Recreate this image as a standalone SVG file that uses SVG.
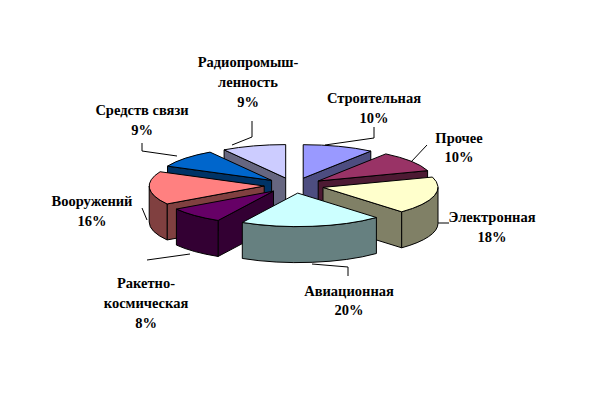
<svg xmlns="http://www.w3.org/2000/svg" width="589" height="409" viewBox="0 0 589 409">
<style>
.s{stroke:#000;stroke-width:1;stroke-linejoin:round}
.l{fill:none;stroke:#000;stroke-width:1}
</style>
<rect width="589" height="409" fill="#fff"/>
<g id="slice-radio">
<path class="s" fill="#666680" d="M285.7,178.1 L224.1,149.82 L224.1,185.82 L285.7,214.1 Z"/>
<path class="s" fill="#CCCCFF" d="M285.7,178.1 L224.1,149.82 A115,33.5 0 0 1 285.7,144.6 Z"/>
</g>
<g id="slice-stroit">
<path class="s" fill="#4D4D80" d="M303.2,178.2 L370.8,151.1 L370.8,187.1 L303.2,214.2 Z"/>
<path class="s" fill="#9999FF" d="M303.2,178.2 L303.2,144.7 A115,33.5 0 0 1 370.8,151.1 Z"/>
</g>
<g id="slice-svyaz">
<path class="s" fill="#003366" d="M271.6,180.4 L167.5,166.14 L167.5,202.14 L271.6,216.4 Z"/>
<path class="s" fill="#0066CC" d="M271.6,180.4 L167.5,166.14 A115,33.5 0 0 1 210,152.12 Z"/>
</g>
<g id="slice-prochee">
<path class="s" fill="#4D1A33" d="M318.2,181 L427.6,170.65 L427.6,206.65 L318.2,217 Z"/>
<path class="s" fill="#993366" d="M318.2,181 L385.8,153.9 A115,33.5 0 0 1 427.6,170.65 Z"/>
</g>
<g id="slice-vooruzh">
<path class="s" fill="#804040" d="M264.2,186 L167.1,203.95 L167.1,239.95 L264.2,222 Z"/>
<path class="s" fill="#804040" d="M167.1,203.95 A115,33.5 0 0 1 149.2,186 L149.2,222 A115,33.5 0 0 0 167.1,239.95 Z"/>
<path class="s" fill="#FF8080" d="M264.2,186 L167.1,203.95 A115,33.5 0 0 1 160.1,171.74 Z"/>
</g>
<g id="slice-elektron">
<path class="s" fill="#808066" d="M323,187.4 L401.7,211.8 L401.7,247.8 L323,223.4 Z"/>
<path class="s" fill="#808066" d="M438,187.4 A115,33.5 0 0 1 401.7,211.8 L401.7,247.8 A115,33.5 0 0 0 438,223.4 Z"/>
<path class="s" fill="#FFFFCC" d="M323,187.4 L432.4,177.05 A115,33.5 0 0 1 401.7,211.8 Z"/>
</g>
<g id="slice-raket">
<path class="s" fill="#330033" d="M273.5,191.1 L218.1,220.46 L218.1,256.46 L273.5,227.1 Z"/>
<path class="s" fill="#330033" d="M218.1,220.46 A115,33.5 0 0 1 176.4,209.05 L176.4,245.05 A115,33.5 0 0 0 218.1,256.46 Z"/>
<path class="s" fill="#660066" d="M273.5,191.1 L218.1,220.46 A115,33.5 0 0 1 176.4,209.05 Z"/>
</g>
<g id="slice-avia">
<path class="s" fill="#668080" d="M376.4,217.5 A115,33.5 0 0 1 242.3,222.46 L242.3,258.46 A115,33.5 0 0 0 376.4,253.5 Z"/>
<path class="s" fill="#CCFFFF" d="M297.7,193.1 L376.4,217.5 A115,33.5 0 0 1 242.3,222.46 Z"/>
</g>
<g id="connectors">
<polyline class="l" points="252,121 252,137 232,145"/>
<polyline class="l" points="374,127 374,138 325,145"/>
<polyline class="l" points="427,145 411,162"/>
<polyline class="l" points="438,223 449,223"/>
<polyline class="l" points="312,264 348,267 348,276"/>
<polyline class="l" points="147,260 190,254"/>
<polyline class="l" points="142,208 147,220"/>
<polyline class="l" points="142,143 142,151 177,156"/>
</g>
<g id="labels" font-family="'Liberation Serif', 'Times New Roman', serif" font-size="14.5" font-weight="bold" fill="#000" text-anchor="middle">
<text x="248" y="67">Радиопромыш-</text>
<text x="248" y="87">ленность</text>
<text x="248" y="107">9%</text>
<text x="374" y="103">Строительная</text>
<text x="374" y="123">10%</text>
<text x="459" y="143">Прочее</text>
<text x="459" y="162">10%</text>
<text x="492" y="222">Электронная</text>
<text x="492" y="242">18%</text>
<text x="349" y="296">Авиационная</text>
<text x="349" y="315">20%</text>
<text x="146" y="288">Ракетно-</text>
<text x="146" y="308">космическая</text>
<text x="146" y="328">8%</text>
<text x="92" y="206">Вооружений</text>
<text x="92" y="226">16%</text>
<text x="142" y="115">Средств связи</text>
<text x="142" y="135">9%</text>
</g>
</svg>
